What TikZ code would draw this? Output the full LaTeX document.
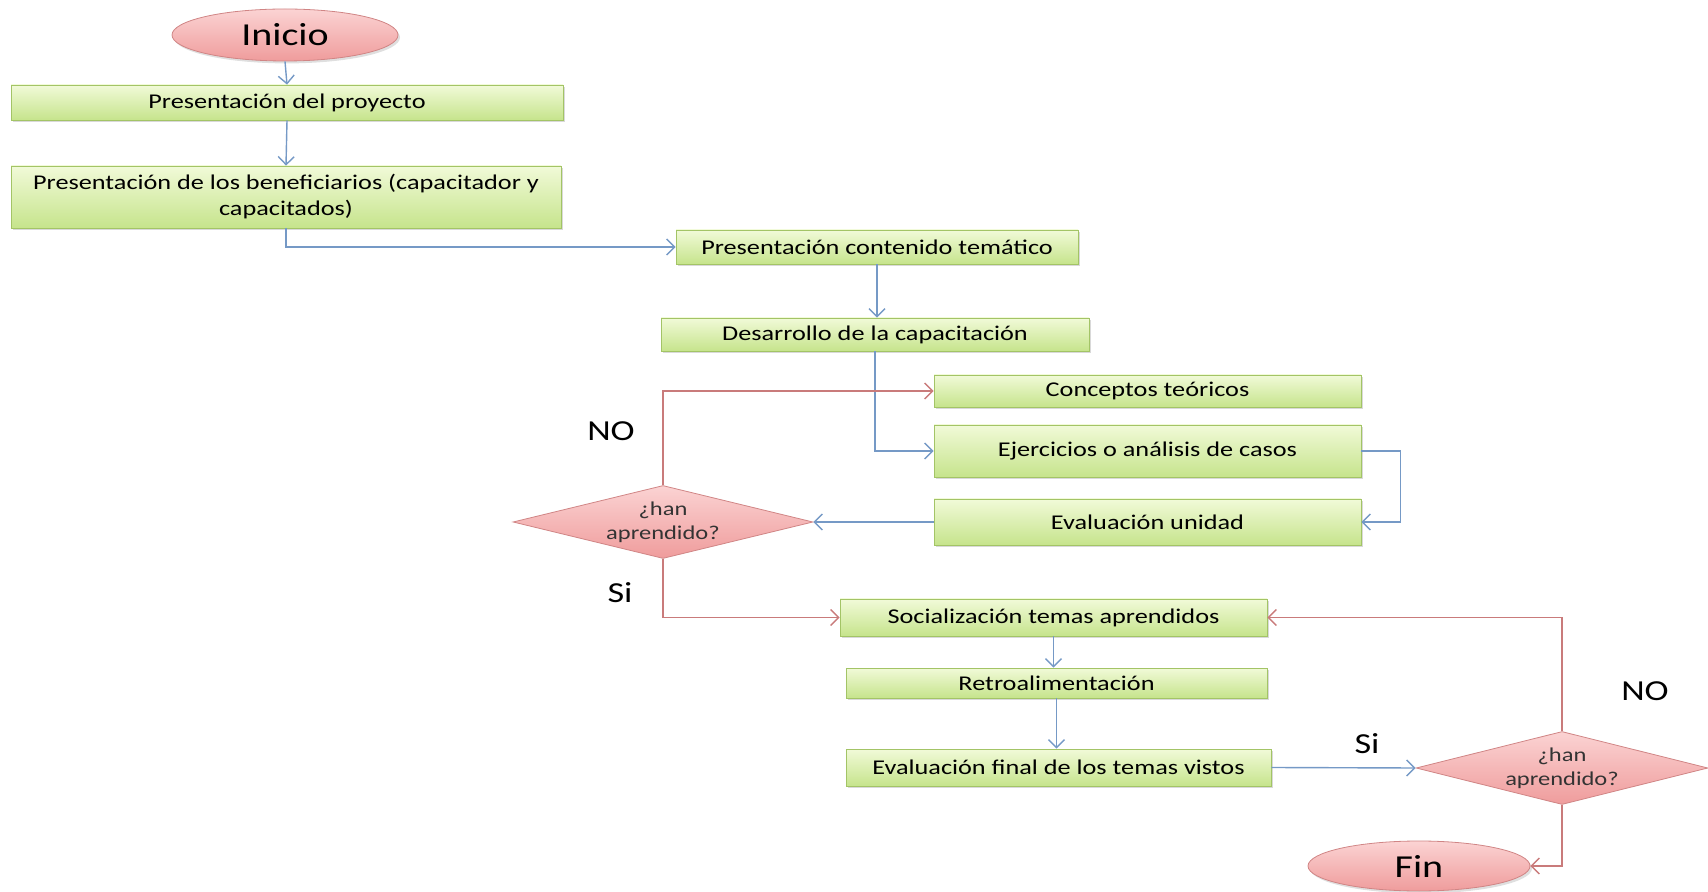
\documentclass[tikz,border=0pt]{standalone}
\usepackage{fontspec}
\setmainfont{Carlito}[FakeStretch=1.25]
\usetikzlibrary{shapes.geometric,arrows.meta,shadows}

\definecolor{vclaro}{HTML}{F1FAD8}
\definecolor{voscuro}{HTML}{C6E48C}
\definecolor{vborde}{HTML}{A3C466}
\definecolor{rclaro}{HTML}{FBD3D3}
\definecolor{roscuro}{HTML}{EF9C9C}
\definecolor{rborde}{HTML}{D08585}
\definecolor{lazul}{HTML}{7599C6}
\definecolor{lrojo}{HTML}{C97B7B}

\tikzset{
  caja/.style={draw=vborde, top color=vclaro, bottom color=voscuro, align=center,
    inner sep=1pt, font=\fontsize{10.5}{13}\selectfont,
    drop shadow={opacity=0.3, shadow xshift=1pt, shadow yshift=-1.2pt}},
  term/.style={ellipse, draw=rborde, top color=rclaro, bottom color=roscuro, inner sep=0pt,
    font=\fontsize{16}{19}\selectfont,
    drop shadow={opacity=0.25, shadow xshift=1pt, shadow yshift=-1.2pt}},
  dec/.style={diamond, draw=rborde, top color=rclaro, bottom color=roscuro, inner sep=0pt,
    aspect=4.2, minimum width=150pt, minimum height=36.5pt},
  dectxt/.style={align=center, font=\fontsize{9.8}{12}\selectfont, text=black!80},
  etq/.style={font=\fontsize{14.5}{17}\selectfont},
  flb/.style={draw=lazul, line width=0.7pt, -{Straight Barb[length=4pt,width=8pt]}},
  flr/.style={draw=lrojo, line width=0.7pt, -{Straight Barb[length=4pt,width=8pt]}}
}

\begin{document}
\begin{tikzpicture}[x=0.5pt, y=-0.5pt]
  \useasboundingbox (0,0) rectangle (1708,892);

  \node[term, minimum width=113pt, minimum height=26pt] (inicio) at (285,35) {Inicio};
  \node[caja, minimum width=276pt, minimum height=17.5pt] (proy) at (287,102.5) {Presentación del proyecto};
  \node[caja, minimum width=275pt, minimum height=31pt] (benef) at (286,197)
    {Presentación de los beneficiarios (capacitador y\\capacitados)};
  \node[caja, minimum width=201pt, minimum height=17pt] (cont) at (877,247) {Presentación contenido temático};
  \node[caja, minimum width=214pt, minimum height=16.5pt] (desa) at (875,334.5) {Desarrollo de la capacitación};

  % unidad
  \node[caja, minimum width=213.5pt, minimum height=16pt] (conc) at (1147.5,391) {Conceptos teóricos};
  \node[caja, minimum width=213.5pt, minimum height=26pt] (ejer) at (1147.5,451) {Ejercicios o análisis de casos};
  \node[caja, minimum width=213.5pt, minimum height=23pt] (evu) at (1147.5,522) {Evaluación unidad};
  \node[dec, label={[dectxt]center:{¿han\\aprendido?}}] (d1) at (663,522) {};

  % cierre
  \node[caja, minimum width=213.5pt, minimum height=18.5pt] (soc) at (1053.5,617.5) {Socialización temas aprendidos};
  \node[caja, minimum width=210.5pt, minimum height=15pt] (retro) at (1056.5,683) {Retroalimentación};
  \node[caja, minimum width=212.5pt, minimum height=18.5pt] (evf) at (1058.5,767.5) {Evaluación final de los temas vistos};
  \node[dec, minimum width=146pt, label={[dectxt]center:{¿han\\aprendido?}}] (d2) at (1562,768) {};
  \node[term, minimum width=111pt, minimum height=25pt] (fin) at (1419,866) {Fin};

  \node[etq] (no1) at (611,431) {NO};
  \node[etq] (si1) at (620,593) {Si};
  \node[etq] (no2) at (1645,691) {NO};
  \node[etq] (si2) at (1367,744) {Si};

  \draw[flb] (inicio.south) -- (proy.north);
  \draw[flb] (proy.south) -- (benef.north);
  \draw[flb] (benef.south) |- (cont.west);
  \draw[flb] (cont.south) -- (cont.south |- desa.north);
  \draw[flb] (desa.south) |- (ejer.west);
  \draw[flb] (ejer.east) -- ++(39,0) |- (evu.east);
  \draw[flb] (evu.west) -- (d1.east);
  \draw[flr] (d1.north) |- (conc.west);
  \draw[flr] (d1.south) |- (soc.west);
  \draw[flb] (soc.south) -- (soc.south |- retro.north);
  \draw[flb] (retro.south) -- (retro.south |- evf.north);
  \draw[flb] (evf.east) -- (d2.west);
  \draw[flr] (d2.north) |- (soc.east);
  \draw[flr] (d2.south) |- (fin.east);
\end{tikzpicture}
\end{document}
